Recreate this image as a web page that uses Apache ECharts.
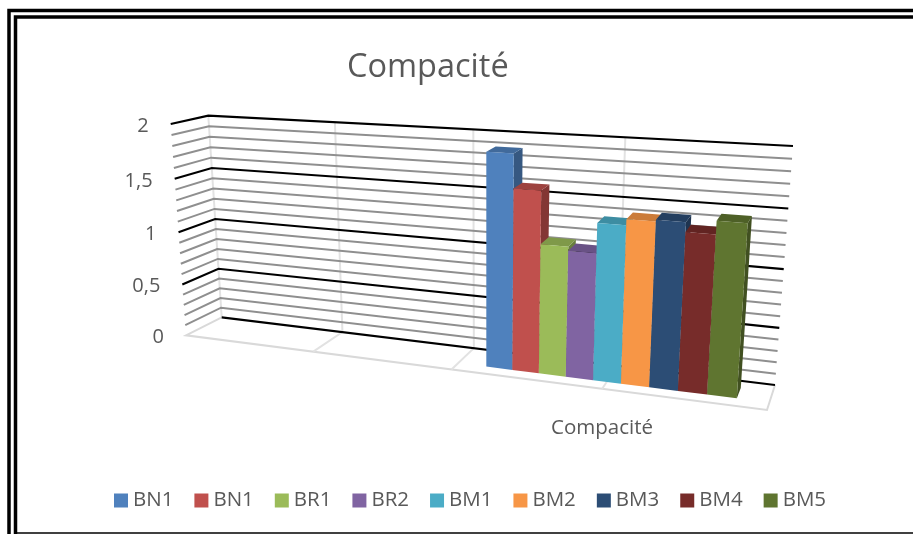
<!DOCTYPE html>
<html lang="fr">
<head>
  <meta charset="UTF-8">
  <title>Compacité</title>
  <script src="https://cdn.jsdelivr.net/npm/echarts@6/dist/echarts.min.js"></script>
  <style>
    html, body { margin: 0; padding: 0; background: #fff; overflow: hidden; }
    #chart { width: 913px; height: 534px; }
  </style>
</head>
<body>
  <div id="chart"></div>
  <script>
    // values
    const categoryLabel = 'Compacité';
    const seriesNames = ['BN1', 'BN1', 'BR1', 'BR2', 'BM1', 'BM2', 'BM3', 'BM4', 'BM5'];
    const seriesValues = [1.895, 1.6, 1.145, 1.11, 1.365, 1.415, 1.43, 1.35, 1.46];
    const seriesColors = ['#4f81bd', '#c0504d', '#9bbb59', '#8064a2', '#4bacc6', '#f79646', '#2c4d75', '#772c2a', '#5f7530'];
    const yTicks = [0, 0.5, 1, 1.5, 2];
    const yMinorTicks = [0.1, 0.2, 0.3, 0.4, 0.6, 0.7, 0.8, 0.9, 1.1, 1.2, 1.3, 1.4, 1.6, 1.7, 1.8, 1.9];
    const xDivisions = [1, 2, 3];

    const AXIS_MAX_X = 4;
    const AXIS_MAX_Y = 2;
    const BAR_START = 2.196;  // where the bar group starts on the x scale
    const BAR_WIDTH = 0.179;
    const BAR_D_FRONT = 0.3;  // depth of the bars, 0 = front of floor, 1 = back wall
    const BAR_D_BACK = 0.72;

    // perspective box: corners in order (u,v) = (0,0) (1,0) (1,1) (0,1)
    const backQuad = [[221.7, 317.3], [775, 385], [793, 146], [208.3, 115.7]];
    const frontQuad = [[186, 335.3], [767, 410], [784, 161], [170.7, 124]];

    // unit square -> quad
    function homography(q) {
      const [x0, y0] = q[0], [x1, y1] = q[1], [x2, y2] = q[2], [x3, y3] = q[3];
      const dx1 = x1 - x2, dx2 = x3 - x2, sx = x0 - x1 + x2 - x3;
      const dy1 = y1 - y2, dy2 = y3 - y2, sy = y0 - y1 + y2 - y3;
      const den = dx1 * dy2 - dx2 * dy1;
      const g = (sx * dy2 - dx2 * sy) / den;
      const h = (dx1 * sy - sx * dy1) / den;
      const a = x1 - x0 + g * x1, b = x3 - x0 + h * x3;
      const d = y1 - y0 + g * y1, e = y3 - y0 + h * y3;
      return (u, v) => {
        const w = g * u + h * v + 1;
        return [(a * u + b * v + x0) / w, (d * u + e * v + y0) / w];
      };
    }
    const backH = homography(backQuad);
    const frontH = homography(frontQuad);

    // x,y are chart values: they go through the axis scales, then into the box
    function project(api, params, x, y, depth) {
      const p = api.coord([x, y]);
      const r = params.coordSys;
      const u = (p[0] - r.x) / r.width;
      const v = (r.y + r.height - p[1]) / r.height;
      const f = frontH(u, v), b = backH(u, v);
      return [f[0] + (b[0] - f[0]) * depth, f[1] + (b[1] - f[1]) * depth];
    }

    function shade(hex, k) {
      const n = parseInt(hex.slice(1), 16);
      const c = [n >> 16, (n >> 8) & 255, n & 255].map(v => Math.round(v * k));
      return 'rgb(' + c.join(',') + ')';
    }

    function line(points, stroke, width) {
      return {
        type: 'polyline',
        shape: { points: points },
        style: { fill: null, stroke: stroke, lineWidth: width }
      };
    }

    function poly(points, fill) {
      return { type: 'polygon', shape: { points: points }, style: { fill: fill } };
    }

    function text(x, y, str, size, align) {
      return {
        type: 'text',
        style: {
          x: x, y: y, text: str, fill: '#595959', fontSize: size,
          fontFamily: 'Open Sans', align: align, verticalAlign: 'middle'
        }
      };
    }

    function renderBox(params, api) {
      const P = (x, y, d) => project(api, params, x, y, d);
      const kids = [];

      // floor
      kids.push(line([P(0, 0, 1), P(0, 0, 0), P(AXIS_MAX_X, 0, 0), P(AXIS_MAX_X, 0, 1)], '#d9d9d9', 2));

      // wall verticals and their floor ticks
      const wallStroke = '#e2e2e2';
      kids.push(line([P(0, 0, 1), P(0, AXIS_MAX_Y, 1)], wallStroke, 2));
      xDivisions.forEach(x => {
        kids.push(line([P(x, 0, 0), P(x, 0, 1), P(x, AXIS_MAX_Y, 1)], wallStroke, 2));
      });

      // gridlines: side wall then back wall
      yMinorTicks.forEach(y => {
        kids.push(line([P(0, y, 0), P(0, y, 1), P(AXIS_MAX_X, y, 1)], '#8f8f8f', 2));
      });
      yTicks.forEach(y => {
        if (y === 0) {
          kids.push(line([P(0, y, 1), P(AXIS_MAX_X, y, 1)], '#000', 2.2));
        } else {
          kids.push(line([P(0, y, 0), P(0, y, 1), P(AXIS_MAX_X, y, 1)], '#000', 2.2));
        }
      });

      // tick labels, comma decimals
      yTicks.forEach(y => {
        const p = P(0, y, 0);
        kids.push(text(p[0] - 22, p[1] + 2, String(y).replace('.', ','), 20, 'right'));
      });

      const c = P(2.7, 0, 0);
      kids.push(text(602, c[1] + 45, categoryLabel, 20.5, 'center'));

      return { type: 'group', children: kids };
    }

    function renderBar(color) {
      return function (params, api) {
        const x0 = api.value(0), x1 = x0 + BAR_WIDTH, y = api.value(1);
        const P = (a, b, d) => project(api, params, a, b, d);
        const f = BAR_D_FRONT, b = BAR_D_BACK;
        return {
          type: 'group',
          children: [
            poly([P(x1, 0, f), P(x1, 0, b), P(x1, y, b), P(x1, y, f)], shade(color, 0.68)),
            poly([P(x0, y, f), P(x1, y, f), P(x1, y, b), P(x0, y, b)], shade(color, 0.82)),
            poly([P(x0, 0, f), P(x1, 0, f), P(x1, y, f), P(x0, y, f)], color)
          ]
        };
      };
    }

    const series = [{
      name: 'box',
      type: 'custom',
      renderItem: renderBox,
      data: [[0, 0]],
      silent: true
    }];
    seriesValues.forEach((v, i) => {
      series.push({
        name: String(i),
        type: 'custom',
        renderItem: renderBar(seriesColors[i]),
        itemStyle: { color: seriesColors[i] },
        data: [[BAR_START + i * BAR_WIDTH, v]]
      });
    });

    // double frame round the picture
    const frameLine = (points, width) => ({
      type: 'polyline',
      shape: { points: points },
      style: { fill: null, stroke: '#000', lineWidth: width }
    });

    const chart = echarts.init(document.getElementById('chart'), null, { renderer: 'canvas' });
    chart.setOption({
      backgroundColor: '#fff',
      animation: false,
      title: {
        text: 'Compacité',
        left: 342,
        top: 46,
        textStyle: { color: '#595959', fontSize: 32.5, fontWeight: 'normal', fontFamily: 'Open Sans' }
      },
      legend: {
        left: 109,
        top: 485,
        icon: 'rect',
        itemWidth: 14,
        itemHeight: 14,
        itemGap: 21,
        data: seriesNames.map((n, i) => String(i)),
        formatter: k => seriesNames[+k],
        textStyle: { color: '#595959', fontSize: 20.5, fontFamily: 'Open Sans' }
      },
      grid: { left: 100, right: 100, top: 100, bottom: 100 },
      xAxis: { type: 'value', min: 0, max: AXIS_MAX_X, show: false },
      yAxis: { type: 'value', min: 0, max: AXIS_MAX_Y, interval: 0.5, show: false },
      graphic: [
        frameLine([[9, 534], [9, 10.5], [913, 10.5]], 3.5),
        frameLine([[15.5, 534], [15.5, 17], [913, 17]], 3.5),
        frameLine([[15, 533], [913, 533]], 1.5)
      ],
      series: series
    });
  </script>
</body>
</html>
